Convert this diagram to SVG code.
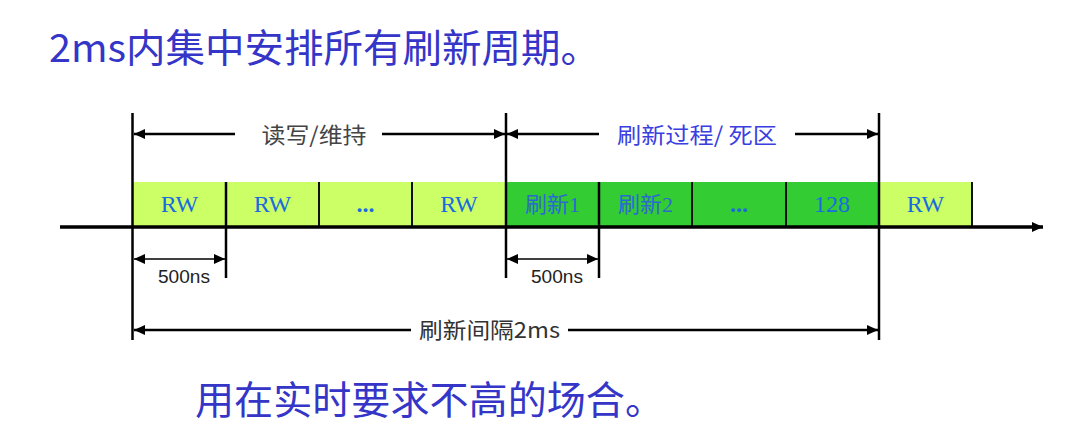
<svg xmlns="http://www.w3.org/2000/svg" width="1067" height="437" viewBox="0 0 1067 437">
<style>
.title{font-family:"Noto Sans CJK SC","Noto Sans",sans-serif;fill:#3535c8;font-size:39px}
.rw{font-family:"Liberation Serif","Noto Sans CJK SC",serif;fill:#1a6ae0;font-size:24px;text-anchor:middle}
.dots{font-family:"Liberation Serif",serif;fill:#1a6ae0;font-size:24px;font-weight:bold;text-anchor:middle}
.rf{font-family:"Liberation Serif","Noto Sans CJK SC",serif;fill:#2a6ad0;font-size:22px;text-anchor:middle}
.lab{font-family:"Noto Sans CJK SC",sans-serif;font-size:22px;text-anchor:middle}
.ns{font-family:"Liberation Sans",sans-serif;font-size:19px;fill:#222;text-anchor:middle}
.light{fill:#ccff66}
.dark{fill:#33cc33}
.div{stroke:#111;stroke-width:2}
.vl{stroke:#000;stroke-width:2.5}
.arr{stroke:#000;stroke-width:2.5;fill:none}
.thin{stroke:#000;stroke-width:1.5;fill:none}
</style>
<defs>
<marker id="ah" markerWidth="12" markerHeight="10" refX="11" refY="5" orient="auto-start-reverse" markerUnits="userSpaceOnUse">
<path d="M0,0 L11,5 L0,10 Z" fill="#000"/>
</marker>
</defs>
<rect width="1067" height="437" fill="#fff"/>
<text class="title" x="49" y="62" textLength="551" lengthAdjust="spacingAndGlyphs">2ms内集中安排所有刷新周期。</text>

<g id="boxes">
<g id="rw1"><rect class="light" x="133" y="182" width="93" height="45"/><text class="rw" x="179.5" y="212">RW</text></g>
<g id="rw2"><rect class="light" x="226" y="182" width="93" height="45"/><text class="rw" x="272.5" y="212">RW</text></g>
<g id="rw3"><rect class="light" x="319" y="182" width="93" height="45"/><text class="dots" x="365.5" y="212">...</text></g>
<g id="rw4"><rect class="light" x="412" y="182" width="94" height="45"/><text class="rw" x="459" y="212">RW</text></g>
<g id="rf1"><rect class="dark" x="506" y="182" width="93" height="45"/><text class="rf" x="552.5" y="212">刷新1</text></g>
<g id="rf2"><rect class="dark" x="599" y="182" width="93" height="45"/><text class="rf" x="645.5" y="212">刷新2</text></g>
<g id="rf3"><rect class="dark" x="692" y="182" width="94" height="45"/><text class="dots" x="739" y="212">...</text></g>
<g id="rf4"><rect class="dark" x="786" y="182" width="93" height="45"/><text class="rw" x="832" y="212">128</text></g>
<g id="rw5"><rect class="light" x="879" y="182" width="93" height="45"/><text class="rw" x="925.5" y="212">RW</text></g>
</g>

<g id="connectors">
<line class="div" x1="319" y1="182" x2="319" y2="227"/>
<line class="div" x1="412" y1="182" x2="412" y2="227"/>
<line class="div" x1="692" y1="182" x2="692" y2="227"/>
<line class="div" x1="786" y1="182" x2="786" y2="227"/>
<line class="div" x1="972" y1="182" x2="972" y2="227"/>
<line class="vl" x1="132.5" y1="113" x2="132.5" y2="340"/>
<line class="vl" x1="506" y1="113" x2="506" y2="278"/>
<line class="vl" x1="879" y1="113" x2="879" y2="340"/>
<line class="vl" x1="226" y1="182" x2="226" y2="278"/>
<line class="vl" x1="599" y1="182" x2="599" y2="278"/>
<line x1="60" y1="227" x2="1043" y2="227" stroke="#000" stroke-width="3.5" marker-end="url(#ah)"/>
<path class="arr" d="M235,134 H134" marker-end="url(#ah)"/>
<path class="arr" d="M382,134 H505" marker-end="url(#ah)"/>
<path class="arr" d="M599,134 H507" marker-end="url(#ah)"/>
<path class="arr" d="M795,134 H878" marker-end="url(#ah)"/>
<path class="thin" d="M134,259 H225" marker-start="url(#ah)" marker-end="url(#ah)"/>
<path class="thin" d="M507,259 H598" marker-start="url(#ah)" marker-end="url(#ah)"/>
<path class="arr" d="M411,330 H134" marker-end="url(#ah)"/>
<path class="arr" d="M568,330 H878" marker-end="url(#ah)"/>
</g>

<g id="labels">
<text class="lab" x="314" y="143" fill="#444" textLength="105" lengthAdjust="spacingAndGlyphs">读写/维持</text>
<text class="lab" x="697" y="143" fill="#3a40e0" textLength="160" lengthAdjust="spacingAndGlyphs">刷新过程/ 死区</text>
<text class="ns" x="184" y="283" textLength="52" lengthAdjust="spacingAndGlyphs">500ns</text>
<text class="ns" x="557" y="283" textLength="52" lengthAdjust="spacingAndGlyphs">500ns</text>
<text class="lab" x="489.5" y="338" fill="#333" textLength="141" lengthAdjust="spacingAndGlyphs">刷新间隔2ms</text>
</g>

<text class="title" x="195" y="414" fill="#3333bb" textLength="469" lengthAdjust="spacingAndGlyphs">用在实时要求不高的场合。</text>
</svg>
